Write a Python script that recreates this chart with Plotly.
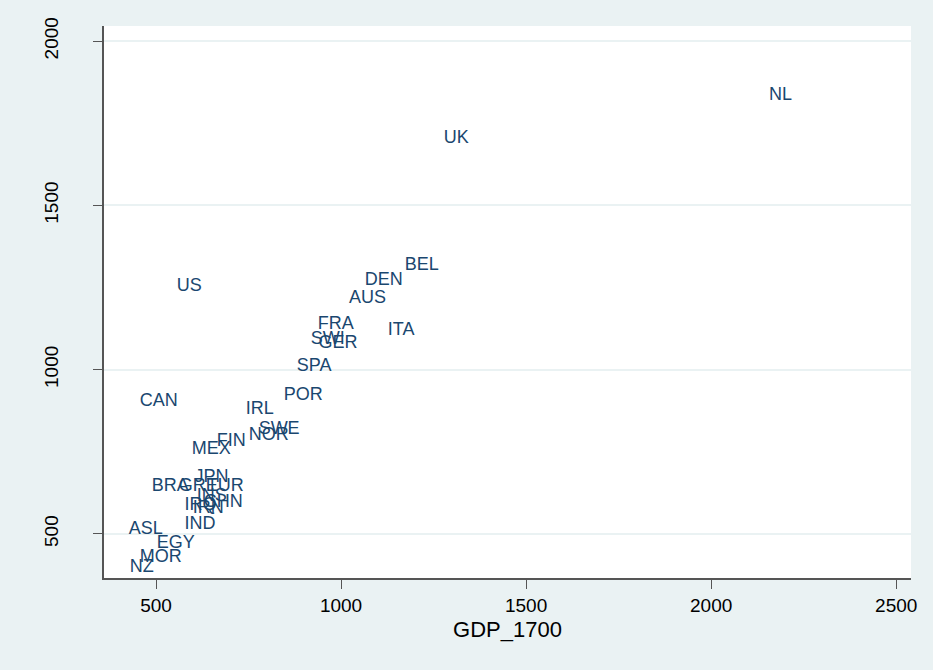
import plotly.graph_objects as go

# Country codes and GDP per capita in 1700 and 1820
countries = ["NL", "UK", "US", "BEL", "DEN", "AUS", "FRA", "ITA", "SWI", "GER",
             "SPA", "POR", "IRL", "SWE", "NOR", "FIN", "MEX", "CAN", "JPN", "BRA",
             "GRE", "TUR", "INS", "IRQ", "IRN", "CHN", "IND", "ASL", "EGY", "MOR", "NZ"]
gdp_1700 = [2130, 1251, 530, 1146, 1038, 995, 911, 1100, 892, 913,
            854, 819, 716, 751, 724, 638, 570, 430, 578, 462,
            535, 611, 584, 551, 573, 603, 551, 400, 476, 430, 403]
gdp_1820 = [1835, 1704, 1253, 1317, 1271, 1216, 1137, 1119, 1091, 1079,
            1009, 921, 878, 817, 799, 780, 756, 902, 671, 643,
            643, 643, 613, 588, 579, 595, 530, 515, 470, 427, 399]

x_ticks = [500, 1000, 1500, 2000, 2500]
y_ticks = [500, 1000, 1500, 2000]

navy = "#1a476f"
bg = "#eaf2f3"
font_family = "Arial, Liberation Sans, sans-serif"

# Markers are invisible; only the country labels show, to the right of each point
fig = go.Figure(go.Scatter(
    x=gdp_1700, y=gdp_1820, text=countries,
    mode="markers+text", textposition="middle right",
    marker=dict(size=14, color="rgba(0,0,0,0)"),
    textfont=dict(family=font_family, size=18, color=navy),
    cliponaxis=False, hoverinfo="skip",
))

fig.update_layout(
    width=933, height=670,
    margin=dict(l=104, r=22, t=26, b=92),
    paper_bgcolor=bg, plot_bgcolor="white",
    showlegend=False,
    font=dict(family=font_family, color="black"),
)
fig.update_xaxes(
    range=[359.5, 2540], tickvals=x_ticks, ticktext=[str(v) for v in x_ticks],
    showgrid=False, zeroline=False,
    showline=True, linecolor="#555555", linewidth=1.5,
    ticks="outside", ticklen=9, tickcolor="#555555", tickwidth=1,
    tickfont=dict(size=19, color="black"),
    title=dict(text="GDP_1700", font=dict(size=22, color="black"), standoff=7),
)
fig.update_yaxes(
    range=[366, 2046], tickvals=y_ticks, ticktext=[str(v) for v in y_ticks],
    showgrid=True, gridcolor=bg, gridwidth=2, zeroline=False,
    showline=True, linecolor="#555555", linewidth=1.5,
    ticks="outside", ticklen=9, tickcolor="#555555", tickwidth=1,
    tickangle=-90, tickfont=dict(size=19, color="black"),
    ticklabelstandoff=28,
)

fig.write_html("out.html")
